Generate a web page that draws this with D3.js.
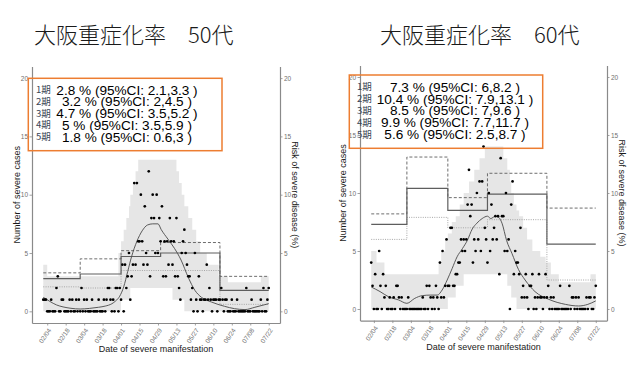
<!DOCTYPE html>
<html><head><meta charset="utf-8">
<script src="https://cdn.jsdelivr.net/npm/d3@7"></script>
<style>body{margin:0;background:#fff} svg{display:block}</style>
</head><body><svg id="c" width="640" height="380"></svg>
<script>
// ---------------- data ----------------
const titles = ["大阪重症化率　50代", "大阪重症化率　60代"];
const periodLabels = ["1期", "2期", "3期", "4期", "5期"];
const periodBounds = ["2021-03-01", "2021-04-01", "2021-05-01", "2021-06-15"];
const endDate = "2021-07-22";
const start50 = "2021-02-01";
const start60 = "2021-02-02";
const xTickLabels = ["02/04","02/18","03/04","03/18","04/01","04/15","04/29","05/13","05/27","06/10","06/24","07/08","07/22"];
const yTicks = [0, 5, 10, 15, 20];

const risk50 = [2.8, 3.2, 4.7, 5, 1.8];
const riskLo50 = [2.1, 2, 3.5, 3.5, 0.6];
const riskHi50 = [3.3, 4.5, 5.2, 5.9, 3];
const risk60 = [7.3, 10.4, 8.5, 9.9, 5.6];
const riskLo60 = [6, 7.9, 7, 7.7, 2.5];
const riskHi60 = [8.2, 13.1, 9.6, 11.7, 8.7];

// daily severe cases (from start date, one per day)
const cases50 = [
 1,1,1,0,0,0,1,0,0,0, 2,3,0,0,1,1,0,0,0,0, 1,0,1,0,0,1,0,1,0,2,
 0,1,0,1,0,0,0,1,0,0, 0,0,1,0,0,0,1,0,1,2, 2,1,0,1,0,2,2,0,2,1,
 4,0,4,2,3,5,1,3,4,11, 4,11,6,6,10,6,4,9,5,4, 12,3,8,10,8,5,10,5,8,6,
 9,3,6,3,6,4,8,6,4,6, 3,8,3,2,1,5,6,7,5,4, 3,3,1,2,0,5,1,0,3,1,
 1,0,1,1,4,1,2,1,0,1, 1,1,0,1,1,2,1,0,1,1, 0,0,0,1,0,0,0,1,0,0,
 0,0,0,0,2,0,0,0,1,0, 0,0,0,0,0,1,0,2,0,0, 1,2];
const cases60 = [
 4,2,0,3,0,0,5,2,0,3, 1,2,0,0,1,0,0,1,0,2, 2,1,0,1,0,0,0,0,1,0,
 0,0,0,0,0,0,0,0,0,1, 0,0,2,0,2,1,0,1,0,2, 1,0,4,1,5,1,2,6,2,2,
 7,7,2,2,3,3,4,4,6,5, 6,5,6,9,12,8,9,4,6,5, 10,6,11,5,11,14,7,6,4,10,
 5,9,6,7,8,6,8,3,13,8, 8,5,10,5,6,0,9,11,3,5, 4,4,3,7,1,2,1,3,1,0,
 2,2,3,0,1,0,1,3,1,1, 0,1,3,1,2,0,1,0,1,0, 0,0,0,2,0,0,0,0,0,0,
 2,0,1,1,0,1,0,1,0,0, 0,0,0,1,0,1,1,0,0,1, 2];

// expected cases (smooth curve), day offset from start
const smoothDays50 = [0,5,10,15,21,28,35,42,47,52,55,58,61,64,67,71,75,79,83,87,89.5,94.5,99.5,104.5,110,115,120,127.5,137.5,145,153,160.5,168,171];
const smoothVals50 = [1.2,0.85,0.55,0.38,0.26,0.2,0.25,0.35,0.45,0.65,0.9,1.3,2.1,3.4,4.7,6.0,6.9,7.4,7.5,7.5,7.0,6.2,5.4,4.4,2.9,1.8,1.2,0.8,0.43,0.23,0.15,0.35,0.57,0.66];
const smoothDays60 = [0,6.7,13,20.7,27,33,38.5,44.8,50,53.7,57.5,61.3,65,69,72.7,76.5,80,84,88,90.5,94,96.5,99,102.5,106.5,111.5,116.5,124,134.5,147,157,164,170];
const smoothVals60 = [1.9,1.5,1.06,0.78,0.49,0.92,1.15,1.2,1.2,1.64,2.5,3.5,4.5,5.2,5.9,6.9,7.4,7.8,8.0,7.8,8.0,7.9,7.4,5.9,4.8,3.4,2.5,1.5,0.83,0.4,0.26,0.4,0.7];

// prediction band (step), day offset from start
const bandDays50 = [0,3,57,59,61,63,65,66,68,70,72,98,101,103,105,107,110,113,116,119,124,133,140,165,171];
const bandLo50 =   [0,0,0,1,1,1,1,2,2,2,2,1,1,1,1,0,0,0,0,0,0,0,0,0,0];
const bandHi50 =   [4,3,5,6,7,8,9,10,11,12,13,13,12,11,10,9,8,7,6,5,4,3,2.5,3,3];
const bandDays60 = [0,4,10,51,53,56,58,61,64,67,70,74,78,82,86,100,103,105,106,108,110,112,115,118,122,128,132,136,142,166,170];
const bandLo60 =   [0,0,0,0,0,0,1,1,2,2,3,3,3,3,3,3,2,2,1,1,0,0,0,0,0,0,0,0,0,0,0];
const bandHi60 =   [5,4,3,4,5,6,6.5,7.5,8,9,10,11,12,13,14,13,12,11,10,9,8.5,8,7,6,5,4.5,4,3,2.3,3,3];

// ---------------- drawing ----------------
const svg = d3.select("#c");
const parse = d3.timeParse("%Y-%m-%d");
const DAY = 864e5;
const fmtTick = d3.timeFormat("%m/%d");
const tickDates = xTickLabels.map(s => parse("2021-" + s.replace("/", "-")));

function drawChart(cfg) {
  const g = svg.append("g");
  const start = parse(cfg.start), end = parse(endDate);
  const pad = (end - start) * 0.05;
  const x = d3.scaleTime().domain([new Date(+start - pad), new Date(+end + pad)]).range([cfg.left, cfg.right]);
  const y = d3.scaleLinear().domain([-1, 21]).range([cfg.bottom, cfg.top]);
  const day = d => new Date(+start + d * DAY);

  // band
  const band = cfg.bandDays.map((d, i) => ({t: day(d), lo: cfg.bandLo[i], hi: cfg.bandHi[i]}));
  g.append("path").datum(band)
    .attr("d", d3.area().curve(d3.curveStepAfter).x(d => x(d.t)).y0(d => y(d.lo)).y1(d => y(d.hi)))
    .attr("fill", "#e6e6e6");

  // risk step lines
  const starts = [start].concat(periodBounds.map(parse));
  function stepData(arr) {
    return starts.map((t, i) => ({t, v: arr[i]})).concat([{t: end, v: arr[arr.length - 1]}]);
  }
  const stepLine = d3.line().curve(d3.curveStepAfter).x(d => x(d.t)).y(d => y(d.v));
  g.append("path").datum(stepData(cfg.lo)).attr("d", stepLine)
    .attr("fill", "none").attr("stroke", "#a6a6a6").attr("stroke-width", 1).attr("stroke-dasharray", "1,1.3");
  g.append("path").datum(stepData(cfg.hi)).attr("d", stepLine)
    .attr("fill", "none").attr("stroke", "#5e5e5e").attr("stroke-width", 0.9).attr("stroke-dasharray", "3,2");
  g.append("path").datum(stepData(cfg.risk)).attr("d", stepLine)
    .attr("fill", "none").attr("stroke", "#5e5e5e").attr("stroke-width", 1.2);

  // smooth expected line
  const sm = cfg.smoothDays.map((d, i) => ({t: day(d), v: cfg.smoothVals[i]}));
  g.append("path").datum(sm)
    .attr("d", d3.line().curve(d3.curveMonotoneX).x(d => x(d.t)).y(d => y(d.v)))
    .attr("fill", "none").attr("stroke", "#4a4a4a").attr("stroke-width", 0.9);

  // points
  g.append("g").selectAll("circle").data(cfg.cases).join("circle")
    .attr("cx", (v, i) => x(day(i))).attr("cy", v => y(v)).attr("r", 1.35).attr("fill", "#000");

  // axes
  const styleAxis = (sel) => {
    sel.select(".domain").attr("stroke", "#8a8a8a").attr("stroke-width", 1.2);
    sel.selectAll(".tick line").attr("stroke", "#8a8a8a").attr("stroke-width", 0.8);
    sel.selectAll(".tick text").attr("fill", "#707070").attr("font-size", "6.5px")
      .attr("font-family", "Liberation Sans, Arial, sans-serif");
  };
  g.append("g").attr("transform", `translate(${cfg.left},0)`)
    .call(d3.axisLeft(y).tickValues(yTicks).tickSize(2.5).tickSizeOuter(0).tickPadding(1.5))
    .call(styleAxis);
  g.append("g").attr("transform", `translate(${cfg.right},0)`)
    .call(d3.axisRight(y).tickValues(yTicks).tickSize(2.5).tickSizeOuter(0).tickPadding(1.5))
    .call(styleAxis);
  const xa = g.append("g").attr("transform", `translate(0,${cfg.bottom})`)
    .call(d3.axisBottom(x).tickValues(tickDates).tickFormat(fmtTick).tickSize(2.5).tickSizeOuter(0))
    .call(styleAxis);
  xa.selectAll(".tick text").attr("y", 0).attr("dy", "0.35em").attr("text-anchor", "end")
    .attr("transform", "translate(2,6) rotate(-55)");

  // axis titles
  const tfont = "Liberation Sans, Arial, sans-serif";
  const cy = (cfg.top + cfg.bottom) / 2;
  g.append("text").attr("transform", `translate(${cfg.yTitleLeftX},${cy}) rotate(-90)`)
    .attr("text-anchor", "middle").attr("dominant-baseline", "central")
    .attr("font-family", tfont).attr("font-size", "9px").attr("fill", "#1a1a1a")
    .text("Number of severe cases");
  g.append("text").attr("transform", `translate(${cfg.yTitleRightX},${cy}) rotate(90)`)
    .attr("text-anchor", "middle").attr("dominant-baseline", "central")
    .attr("font-family", tfont).attr("font-size", "9px").attr("fill", "#1a1a1a")
    .text("Risk of severe disease (%)");
  g.append("text").attr("x", (cfg.left + cfg.right) / 2).attr("y", cfg.bottom + 29)
    .attr("text-anchor", "middle").attr("font-family", tfont).attr("font-size", "9px").attr("fill", "#1a1a1a")
    .text("Date of severe manifestation");

  // legend box
  g.append("rect").attr("x", cfg.box[0]).attr("y", cfg.box[1]).attr("width", cfg.box[2]).attr("height", cfg.box[3])
    .attr("fill", "none").attr("stroke", "#ED7D31").attr("stroke-width", 1.5);
  periodLabels.forEach((lab, i) => {
    const by = cfg.legendY + i * 11.8;
    g.append("text").attr("x", cfg.legendLabelX).attr("y", by - 1.5)
      .attr("font-family", "Noto Sans CJK JP, sans-serif").attr("font-size", "9.5px").attr("fill", "#3b4656")
      .text(lab);
    g.append("text").attr("x", cfg.legendCenterX).attr("y", by).attr("text-anchor", "middle")
      .attr("font-family", tfont).attr("font-size", "13.6px").attr("fill", "#000")
      .text(`${cfg.risk[i]} % (95%CI: ${cfg.lo[i]},${cfg.hi[i]} )`);
  });

  // title
  svg.append("text").attr("x", cfg.titleX).attr("y", 43)
    .attr("font-family", "Noto Sans CJK JP, sans-serif").attr("font-weight", 300)
    .attr("font-size", "22px").attr("fill", "#1a1a1a")
    .text(cfg.title);
}

drawChart({
  title: titles[0], titleX: 34,
  left: 32, right: 280, top: 66.4, bottom: 323,
  start: start50, cases: cases50,
  smoothDays: smoothDays50, smoothVals: smoothVals50,
  bandDays: bandDays50, bandLo: bandLo50, bandHi: bandHi50,
  risk: risk50, lo: riskLo50, hi: riskHi50,
  box: [28.3, 78.3, 193.7, 72.4], legendLabelX: 36, legendCenterX: 127, legendY: 94.5,
  yTitleLeftX: 17, yTitleRightX: 294.5
});
drawChart({
  title: titles[1], titleX: 380,
  left: 360, right: 607, top: 65.4, bottom: 320.6,
  start: start60, cases: cases60,
  smoothDays: smoothDays60, smoothVals: smoothVals60,
  bandDays: bandDays60, bandLo: bandLo60, bandHi: bandHi60,
  risk: risk60, lo: riskLo60, hi: riskHi60,
  box: [349.3, 75, 193.4, 73.3], legendLabelX: 357, legendCenterX: 455, legendY: 91.8,
  yTitleLeftX: 343, yTitleRightX: 622
});
</script>
</body></html>
